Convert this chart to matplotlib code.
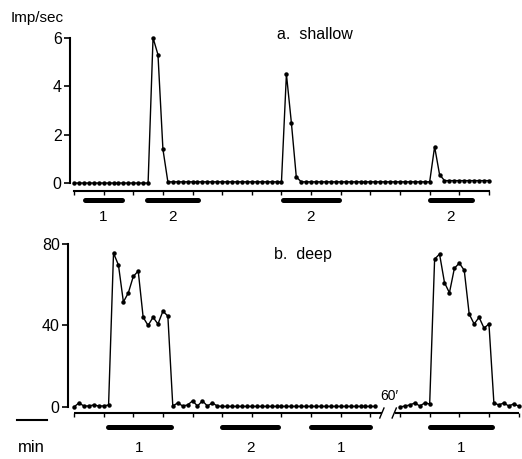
import numpy as np
import matplotlib
matplotlib.use("Agg")
import matplotlib.pyplot as plt

plt.rcParams['font.family'] = ['Liberation Sans', 'DejaVu Sans']

# ── Data (one point every 10 s, index = sample number) ────────────────────────
shallow = ([0.0] * 16
           + [6.0, 5.3, 1.4]
           + [0.05] * 24
           + [4.5, 2.5, 0.25]
           + [0.05] * 27
           + [1.5, 0.35]
           + [0.1] * 10)

deep_pre = ([0.0, 2.0, 0.5, 0.5, 1.0, 0.5, 0.5, 1.0]
            + [75.5, 69.6, 51.5, 56.0, 64.0, 66.7, 44.0, 40.0, 44.0, 40.7, 47.0, 44.6]
            + [0.5, 2.0, 0.5, 1.0, 3.0, 0.5, 3.0, 0.5, 2.0, 0.5]
            + [0.3] * 32)

deep_post = ([0.0, 0.5, 1.0, 2.0, 0.5, 2.0, 1.5]
             + [72.5, 75.0, 61.0, 56.0, 68.0, 70.6, 67.0, 45.6, 40.7, 44.0, 38.7, 40.7]
             + [2.0, 1.0, 2.0, 0.5, 1.5, 0.5])
post_start = 66

shallow_bars = [(2.2, 9.7, "1"), (14.8, 25.1, "2"), (42.3, 53.6, "2"), (72.0, 80.6, "2")]
deep_bars = [(6.9, 19.6, "1"), (30.0, 41.3, "2"), (48.0, 60.0, "1"), (72.0, 84.6, "1")]

XLIM = (-14.98, 90.69)

fig = plt.figure(figsize=(5.22, 4.59), dpi=100)

# ── a. shallow ────────────────────────────────────────────────────────────────
ax1 = fig.add_axes([0, 0.4989, 1, 0.5011])
ax1.set_xlim(*XLIM)
ax1.set_ylim(-1.94, 7.56)
x1 = np.arange(len(shallow))
ax1.plot(x1, shallow, color='black', lw=1.0, marker='o', ms=2.2)

for s in ['top', 'right']:
    ax1.spines[s].set_visible(False)
ax1.spines['left'].set_position(('data', -0.8))
ax1.spines['left'].set_bounds(0, 6)
ax1.spines['left'].set_linewidth(1.5)
ax1.spines['bottom'].set_position(('data', -0.33))
ax1.spines['bottom'].set_bounds(0, 84)
ax1.spines['bottom'].set_linewidth(1.5)
ax1.set_yticks([0, 2, 4, 6])
ax1.set_xticks(np.arange(0, 85, 6))
ax1.tick_params(axis='x', direction='out', length=3, width=1, labelbottom=False)
ax1.tick_params(axis='y', direction='out', length=4, width=1.2, labelsize=11.5, pad=2)

for a, b, lab in shallow_bars:
    ax1.plot([a, b], [-0.72, -0.72], color='black', lw=3.6, solid_capstyle='round')
    ax1.text((a + b) / 2, -1.4, lab, ha='center', va='center', fontsize=11)

ax1.text(-7.5, 6.82, "Imp/sec", ha='center', va='center', fontsize=11)
ax1.text(48.8, 6.12, "a.  shallow", ha='center', va='center', fontsize=11.5)

# ── b. deep ───────────────────────────────────────────────────────────────────
ax2 = fig.add_axes([0, 0, 1, 0.4989])
ax2.set_xlim(*XLIM)
ax2.set_ylim(-25.5, 86.8)
x_pre = np.arange(len(deep_pre))
x_post = np.arange(post_start, post_start + len(deep_post))
ax2.plot(x_pre, deep_pre, color='black', lw=1.0, marker='o', ms=2.2)
ax2.plot(x_post, deep_post, color='black', lw=1.0, marker='o', ms=2.2)

for s in ['top', 'right']:
    ax2.spines[s].set_visible(False)
ax2.spines['left'].set_position(('data', -1.2))
ax2.spines['left'].set_bounds(0, 80)
ax2.spines['left'].set_linewidth(1.5)
ax2.spines['bottom'].set_position(('data', -2.94))
ax2.spines['bottom'].set_visible(False)
ax2.set_yticks([0, 40, 80])
ax2.set_xticks(list(np.arange(0, 61, 6)) + [66, 72, 78, 84, 90])
ax2.tick_params(axis='x', direction='out', length=3, width=1, labelbottom=False)
ax2.tick_params(axis='y', direction='out', length=4, width=1.2, labelsize=11.5, pad=2)

# broken x axis
ax2.plot([0, 62.3], [-2.94, -2.94], color='black', lw=1.5, solid_capstyle='butt')
ax2.plot([65.0, 90], [-2.94, -2.94], color='black', lw=1.5, solid_capstyle='butt')
ax2.plot([61.9, 62.75], [-5.4, -0.5], color='black', lw=1.0)
ax2.plot([64.4, 65.25], [-5.4, -0.5], color='black', lw=1.0)
ax2.text(63.8, 5.5, "60\u2032", ha='center', va='center', fontsize=10)

for a, b, lab in deep_bars:
    ax2.plot([a, b], [-9.8, -9.8], color='black', lw=3.6, solid_capstyle='round')
    ax2.text((a + b) / 2, -20.1, lab, ha='center', va='center', fontsize=11)

# time scale bar
ax2.plot([-11.5, -5.5], [-6.4, -6.4], color='black', lw=1.5, clip_on=False)
ax2.text(-8.7, -20.1, "min", ha='center', va='center', fontsize=12)
ax2.text(46.4, 75.0, "b.  deep", ha='center', va='center', fontsize=11.5)

fig.savefig("out.png", dpi=100)
